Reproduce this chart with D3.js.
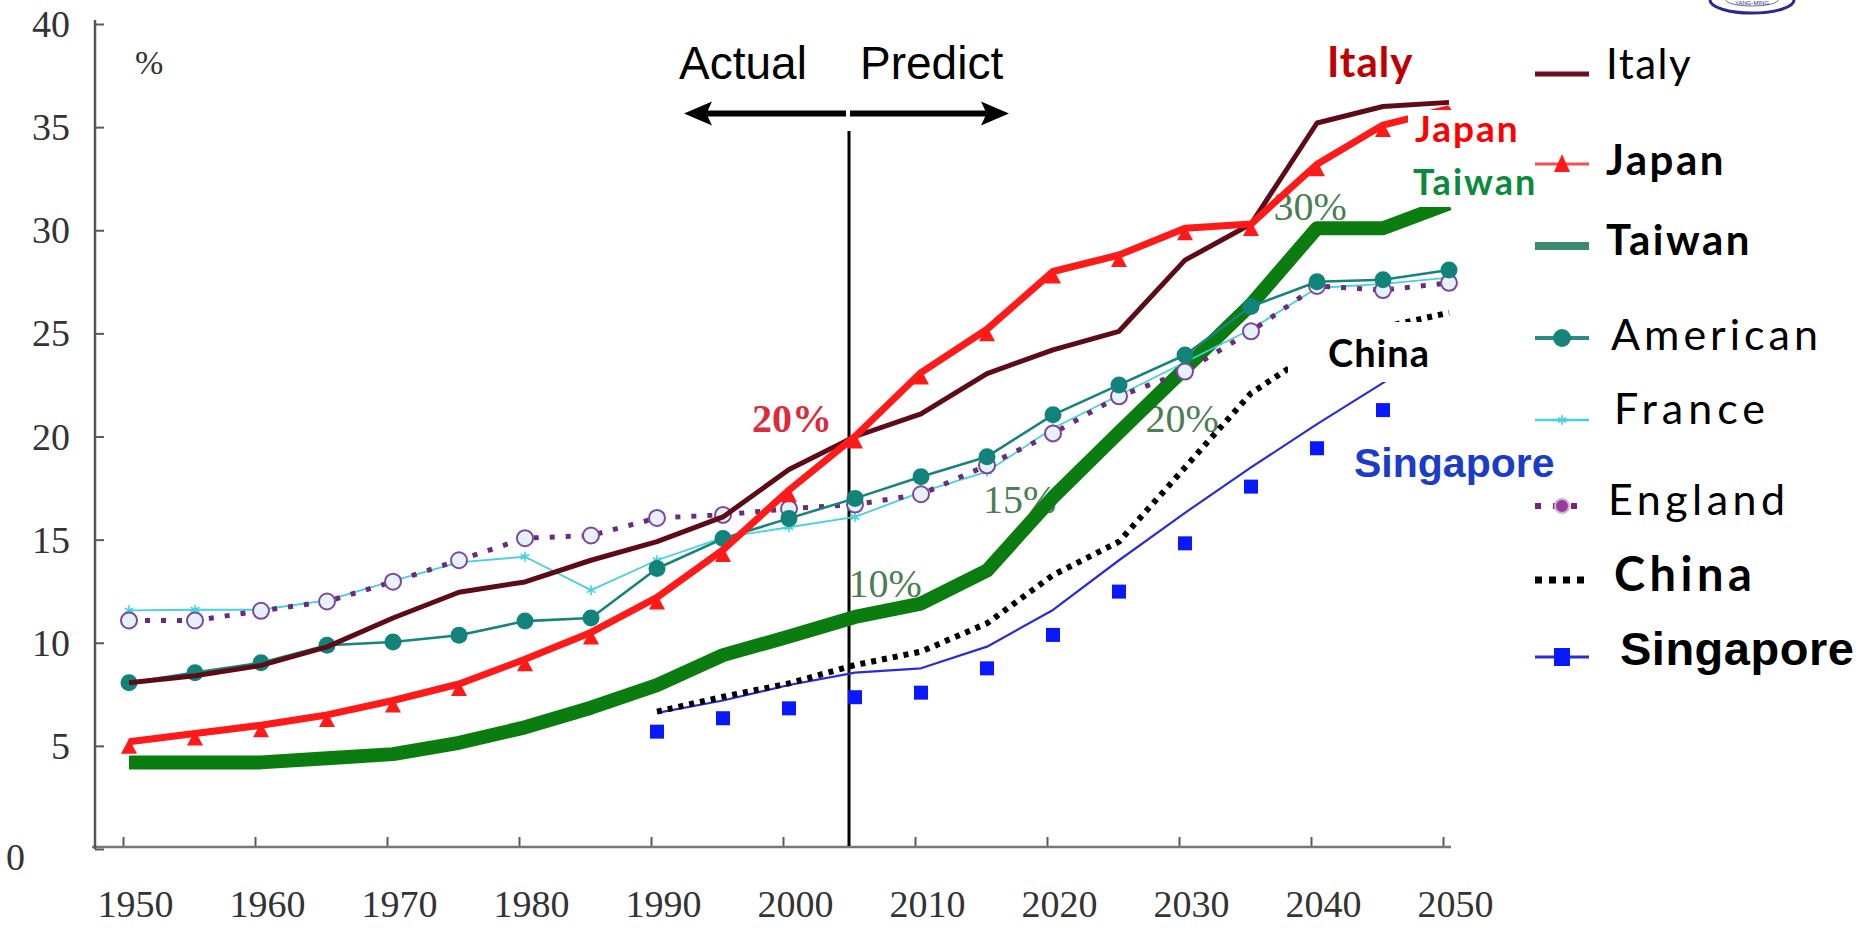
<!DOCTYPE html>
<html>
<head>
<meta charset="utf-8">
<script src="https://cdn.jsdelivr.net/npm/d3@7"></script>
<style>
  html, body { margin: 0; padding: 0; background: #fff; }
  svg { display: block; }
</style>
</head>
<body>
<svg id="chart" width="1874" height="928"></svg>
<script>
// ---- data: share of population aged 65+ (%) ----
const years = [1950, 1955, 1960, 1965, 1970, 1975, 1980, 1985, 1990, 1995, 2000,
               2005, 2010, 2015, 2020, 2025, 2030, 2035, 2040, 2045, 2050];
const italy    = [8.06, 8.4, 8.9, 9.8, 11.2, 12.45, 12.95, 14.0, 14.9, 16.1, 18.4,
                  20.0, 21.1, 23.05, 24.2, 25.1, 28.55, 30.3, 35.2, 36.0, 36.2];
const japan    = [5.2, 5.6, 6.0, 6.5, 7.2, 8.0, 9.2, 10.5, 12.2, 14.5, 17.4,
                  20.0, 23.1, 25.2, 28.0, 28.8, 30.1, 30.3, 33.2, 35.1, 35.9];
const taiwan   = [4.2, 4.2, 4.2, 4.4, 4.6, 5.15, 5.9, 6.85, 7.95, 9.4, 10.3,
                  11.25, 11.9, 13.5, 17.05, 20.2, 23.3, 26.4, 30.1, 30.1, 31.3];
const american = [8.06, 8.55, 9.03, 9.88, 10.04, 10.36, 11.05, 11.2, 13.6, 15.05, 16.03,
                  17.0, 18.05, 19.02, 21.05, 22.5, 23.95, 26.3, 27.5, 27.6, 28.07];
const france   = [11.57, 11.6, 11.6, 12.05, 13.0, 13.9, 14.17, 12.55, 14.0, 15.1, 15.6,
                  16.1, 17.3, 18.3, 20.4, 22.0, 23.6, 25.2, 27.2, 27.4, 27.7];
const england  = [11.08, 11.08, 11.55, 12.0, 12.96, 14.0, 15.07, 15.2, 16.05, 16.2, 16.5,
                  16.7, 17.2, 18.6, 20.15, 21.95, 23.15, 25.1, 27.3, 27.1, 27.45];

const lateYears      = [1990, 1995, 2000, 2005, 2010, 2015, 2020, 2025, 2030, 2035, 2040, 2045, 2050];
const china          = [6.66, 7.38, 8.03, 8.92, 9.57, 10.94, 13.28, 14.9, 18.5, 22.1, 24.2, 25.3, 26.0];
const singaporeTrend = [6.6, 7.2, 7.95, 8.55, 8.76, 9.81, 11.59, 14.0, 16.3, 18.5, 20.6, 22.6, 24.5];
const singaporeYears = [1990, 1995, 2000, 2005, 2010, 2015, 2020, 2025, 2030, 2035, 2040, 2045];
const singapore      = [5.69, 6.34, 6.82, 7.36, 7.58, 8.76, 10.38, 12.48, 14.82, 17.57, 19.43, 21.28];

const xTickValues = [1950, 1960, 1970, 1980, 1990, 2000, 2010, 2020, 2030, 2040, 2050];
const yTickValues = [0, 5, 10, 15, 20, 25, 30, 35, 40];
const dividerYear = 2005;

const legendNames = ["Italy", "Japan", "Taiwan", "American", "France", "England", "China", "Singapore"];

// threshold annotations: [text, year, value, colour, weight]
const thresholdNotes = [
  ["20%", 1997.2, 20.2, "#d92c3c", "bold"],
  ["10%", 2004.5, 12.2, "#4c7d54", "normal"],
  ["15%", 2014.7, 16.3, "#4c7d54", "normal"],
  ["20%", 2027.0, 20.2, "#4c7d54", "normal"],
  ["30%", 2036.7, 30.5, "#4c7d54", "normal"]
];

// ---- layout ----
const svg = d3.select("#chart");
const x = d3.scaleLinear().domain([1950, 2050]).range([129, 1449]);
const y = d3.scaleLinear().domain([0, 40]).range([849, 24]);
const axisShift = -6;           // tick marks sit a little left of the data columns
const serif = "'Liberation Serif', 'Times New Roman', serif";
const sans = "'Liberation Sans', Arial, sans-serif";
const round = "Lato, 'Noto Sans', sans-serif";

// ---- axes ----
const axisColor = "#5a5a5a";
const xAxis = svg.append("g")
  .attr("transform", `translate(${axisShift},847)`)
  .call(d3.axisBottom(x).tickValues(xTickValues).tickSizeInner(-10).tickSizeOuter(0).tickFormat(d3.format("d")));
xAxis.select(".domain").remove();
xAxis.selectAll(".tick line").attr("stroke", axisColor).attr("stroke-width", 2);
xAxis.selectAll(".tick text")
  .attr("y", 70).attr("dy", 0).attr("dx", 12)
  .attr("fill", "#333").style("font-family", serif).style("font-size", "38px");
svg.append("line").attr("x1", 92).attr("x2", 1451).attr("y1", 847).attr("y2", 847)
  .attr("stroke", "#777").attr("stroke-width", 2.5);

const yAxis = svg.append("g")
  .attr("transform", "translate(95,0)")
  .call(d3.axisLeft(y).tickValues(yTickValues).tickSizeInner(-9).tickSizeOuter(0));
yAxis.select(".domain").remove();
yAxis.selectAll(".tick line").attr("stroke", axisColor).attr("stroke-width", 2);
yAxis.selectAll(".tick text")
  .attr("x", d => d === 0 ? -89 : -25)
  .attr("dy", d => d === 0 ? "0.55em" : "0.33em")
  .attr("text-anchor", d => d === 0 ? "start" : "end")
  .attr("fill", "#333").style("font-family", serif).style("font-size", "38px");
svg.append("line").attr("x1", 95).attr("x2", 95).attr("y1", 20).attr("y2", 849)
  .attr("stroke", "#555").attr("stroke-width", 2.5);
svg.append("text").attr("x", 135).attr("y", 74).text("%")
  .attr("fill", "#333").style("font-family", serif).style("font-size", "34px");

// ---- Actual / Predict divider ----
const xd = x(dividerYear) + axisShift;
svg.append("line").attr("x1", xd).attr("x2", xd).attr("y1", 131).attr("y2", 846)
  .attr("stroke", "#000").attr("stroke-width", 3);
const arrowY = 113.5;
function arrow(x0, x1) {
  const dir = Math.sign(x1 - x0), head = 28;
  svg.append("line").attr("x1", x0).attr("x2", x1 - dir * head * 0.8)
    .attr("y1", arrowY).attr("y2", arrowY).attr("stroke", "#000").attr("stroke-width", 6);
  svg.append("path")
    .attr("d", `M${x1},${arrowY} L${x1 - dir * head},${arrowY - 12} L${x1 - dir * head * 0.8},${arrowY} L${x1 - dir * head},${arrowY + 12} Z`)
    .attr("fill", "#000");
}
arrow(xd - 3, 684);
arrow(xd + 1, 1009);
svg.append("text").attr("x", 679).attr("y", 79).text("Actual")
  .attr("fill", "#000").style("font-family", sans).style("font-size", "46px");
svg.append("text").attr("x", 860).attr("y", 79).text("Predict")
  .attr("fill", "#000").style("font-family", sans).style("font-size", "46px");

// ---- threshold notes (beneath the series) ----
svg.append("g").selectAll("text").data(thresholdNotes).join("text")
  .attr("x", d => x(d[1])).attr("y", d => y(d[2]))
  .text(d => d[0]).attr("fill", d => d[3])
  .style("font-family", serif).style("font-size", "40px").style("font-weight", d => d[4]);

// ---- series ----
const lineOn = xs => d3.line().x((d, i) => x(xs[i])).y(d => y(d));
function drawLine(xs, vals, stroke, width, dash) {
  return svg.append("path").datum(vals).attr("d", lineOn(xs))
    .attr("fill", "none").attr("stroke", stroke).attr("stroke-width", width)
    .attr("stroke-linejoin", "round").attr("stroke-dasharray", dash || null);
}

// Singapore: trend line plus yearly squares
drawLine(lateYears, singaporeTrend, "#2b2bd6", 2.2);
svg.append("g").selectAll("rect").data(singapore).join("rect")
  .attr("x", (d, i) => x(singaporeYears[i]) - 7).attr("y", d => y(d) - 7)
  .attr("width", 14).attr("height", 14).attr("fill", "#0a18ff");

// China (dotted)
drawLine(lateYears, china, "#000", 6, "5 6");

// Taiwan (thick)
drawLine(years, taiwan, "#0b7d10", 14);

// France (thin cyan with asterisks)
drawLine(years, france, "#45d2dc", 1.8);
svg.append("g").selectAll("path").data(france).join("path")
  .attr("transform", (d, i) => `translate(${x(years[i])},${y(d)})`)
  .attr("d", d3.symbol(d3.symbolAsterisk, 70)())
  .attr("fill", "none").attr("stroke", "#45d2dc").attr("stroke-width", 1.6);

// England (dotted purple with open circles)
drawLine(years, england, "#6b2a7b", 5, "5 11");
svg.append("g").selectAll("circle").data(england).join("circle")
  .attr("cx", (d, i) => x(years[i])).attr("cy", d => y(d)).attr("r", 8)
  .attr("fill", "#e6f1fb").attr("stroke", "#7a4a98").attr("stroke-width", 2);

// American (teal with filled circles)
drawLine(years, american, "#16847b", 2.6);
svg.append("g").selectAll("circle").data(american).join("circle")
  .attr("cx", (d, i) => x(years[i])).attr("cy", d => y(d)).attr("r", 8.5)
  .attr("fill", "#12837a");

// Italy
drawLine(years, italy, "#5e0b18", 5);

// Japan (red with triangles hanging under the line)
drawLine(years, japan, "#ff1a1a", 7);
svg.append("g").selectAll("path").data(japan).join("path")
  .attr("transform", (d, i) => `translate(${x(years[i])},${y(d)})`)
  .attr("d", "M0,-3 L-8,12 L8,12 Z").attr("fill", "#ff1a1a");

// ---- in-plot name tags ----
const tag = (x0, y0, w, h) => svg.append("rect").attr("x", x0).attr("y", y0)
  .attr("width", w).attr("height", h).attr("fill", "#fff");
tag(1408, 110, 152, 97);
tag(1288, 322, 182, 60);
tag(1333, 427, 237, 63);

function label(t, x0, y0, color, size, family, weight, spacing) {
  svg.append("text").attr("x", x0).attr("y", y0).text(t).attr("fill", color)
    .style("font-family", family).style("font-size", size + "px")
    .style("font-weight", weight).style("letter-spacing", (spacing || 0) + "px");
}
label("Italy", 1327, 77, "#c00000", 42, round, "bold", 1);
label("Japan", 1415, 142, "#ff0000", 37, round, "bold", 2);
label("Taiwan", 1413, 195, "#0a8a3c", 36, round, "bold", 2);
label("China", 1328, 367, "#000", 38, round, "bold", 1);
label("Singapore", 1354, 477, "#1a3cc8", 41, sans, "bold", 0);

// ---- legend ----
const legendRows = [
  { line: 74,  base: 79,  tx: 1606, weight: "normal", family: round, size: 42, ls: 1.5 },
  { line: 164, base: 175, tx: 1606, weight: "bold",   family: round, size: 42, ls: 2.5 },
  { line: 246, base: 255, tx: 1606, weight: "bold",   family: round, size: 42, ls: 2.5 },
  { line: 338, base: 350, tx: 1611, weight: "normal", family: round, size: 43, ls: 4 },
  { line: 420, base: 424, tx: 1614, weight: "normal", family: round, size: 43, ls: 5 },
  { line: 506, base: 515, tx: 1608, weight: "normal", family: round, size: 43, ls: 4.5 },
  { line: 580, base: 591, tx: 1614, weight: "bold",   family: round, size: 47, ls: 4.5 },
  { line: 657, base: 665, tx: 1620, weight: "bold",   family: sans,  size: 47, ls: 0.5 }
];
const lx0 = 1535, lx1 = 1589, lxm = 1562;
const leg = svg.append("g");
legendNames.forEach((name, i) => {
  const r = legendRows[i], ly = r.line;
  const seg = (stroke, w, dash) => leg.append("line").attr("x1", lx0).attr("x2", lx1)
    .attr("y1", ly).attr("y2", ly).attr("stroke", stroke).attr("stroke-width", w)
    .attr("stroke-dasharray", dash || null);
  if (name === "Italy") seg("#6a1020", 5);
  if (name === "Japan") {
    seg("#f05050", 3);
    leg.append("path").attr("transform", `translate(${lxm},${ly})`)
      .attr("d", "M0,-10 L-8,8 L8,8 Z").attr("fill", "#ff1a1a");
  }
  if (name === "Taiwan") seg("#3b8a6c", 8);
  if (name === "American") {
    seg("#2a8a84", 4);
    leg.append("circle").attr("cx", lxm).attr("cy", ly).attr("r", 9).attr("fill", "#16847b");
  }
  if (name === "France") {
    seg("#45d2dc", 2.5);
    leg.append("path").attr("transform", `translate(${lxm},${ly})`)
      .attr("d", d3.symbol(d3.symbolAsterisk, 60)()).attr("stroke", "#45d2dc").attr("stroke-width", 1.6);
  }
  if (name === "England") {
    seg("#7b1f7b", 6, "6 12");
    leg.append("circle").attr("cx", lxm).attr("cy", ly).attr("r", 7)
      .attr("fill", "#9a3a9a").attr("stroke", "#c9b6d8").attr("stroke-width", 2);
  }
  if (name === "China") seg("#000", 7, "7 7");
  if (name === "Singapore") {
    seg("#2b2bd6", 3);
    leg.append("rect").attr("x", lxm - 8).attr("y", ly - 9).attr("width", 16).attr("height", 18).attr("fill", "#0a18ff");
  }
  leg.append("text").attr("x", r.tx).attr("y", r.base).text(name).attr("fill", "#000")
    .style("font-family", r.family).style("font-size", r.size + "px")
    .style("font-weight", r.weight).style("letter-spacing", r.ls + "px");
});

// ---- emblem peeking in at the top corner ----
svg.append("path").attr("d", "M1710,0 A42,13 0 0 0 1794,0")
  .attr("fill", "none").attr("stroke", "#2a2a8a").attr("stroke-width", 3);
svg.append("path").attr("d", "M1726,0 A26,6 0 0 0 1778,0")
  .attr("fill", "none").attr("stroke", "#6a6aa8").attr("stroke-width", 1);
svg.append("text").attr("x", 1752).attr("y", 5).attr("text-anchor", "middle").text("YANG-MING")
  .attr("fill", "#2a2a8a").style("font-family", sans).style("font-size", "6px");
</script>
</body>
</html>
